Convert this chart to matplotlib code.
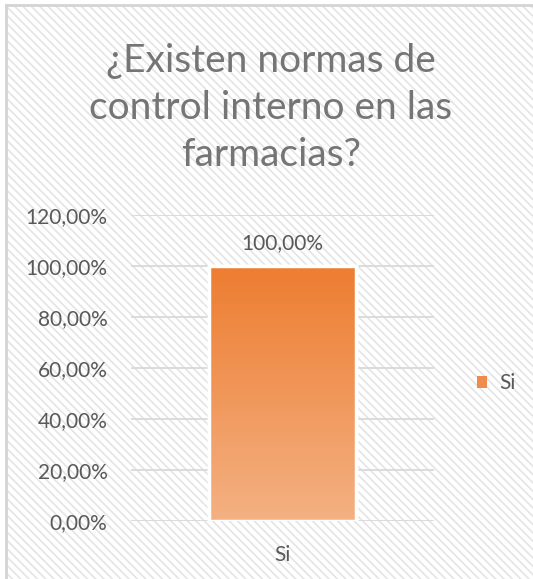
import numpy as np
import matplotlib
matplotlib.use("Agg")
import matplotlib.pyplot as plt
from matplotlib.patches import Rectangle, Patch
from matplotlib.lines import Line2D
from matplotlib.colors import LinearSegmentedColormap
from matplotlib.ticker import FuncFormatter

# Data
categories = ["Si"]
values = [1.0]
series_name = "Si"
title = "¿Existen normas de\ncontrol interno en las\nfarmacias?"
yticks = [0.0, 0.2, 0.4, 0.6, 0.8, 1.0, 1.2]

FONT = "Lato"
TXT = "#595959"
W, H = 533, 579
fig = plt.figure(figsize=(W / 100, H / 100), dpi=100)
plt.rcParams["hatch.color"] = "#e4e4e4"
plt.rcParams["hatch.linewidth"] = 1.2

# hatched background + border (left and top only)
bg = Rectangle((6 / W, 0), 1 - 6 / W, 1 - 5 / H, transform=fig.transFigure,
               facecolor="white", edgecolor="#e4e4e4", hatch="\\\\\\\\", lw=0,
               zorder=-10)
fig.patches.append(bg)
fig.lines.append(Line2D([6 / W, 6 / W], [0, 1 - 5 / H], transform=fig.transFigure,
                        color="#d4d4d4", lw=2.0, zorder=-9))
fig.lines.append(Line2D([6 / W, 1], [1 - 5 / H, 1 - 5 / H], transform=fig.transFigure,
                        color="#d4d4d4", lw=2.0, zorder=-9))

ax = fig.add_axes([131 / W, (H - 521) / H, 303 / W, 306 / H])
ax.patch.set_alpha(0)
for s in ax.spines.values():
    s.set_visible(False)

x = np.arange(len(categories))
bars = ax.bar(x, values, width=0.485, color="#ED7D31", edgecolor="white",
              linewidth=2.5, zorder=3, label=series_name)
ax.set_xlim(-0.5, 0.5)
ax.set_ylim(0, 1.2)
ax.set_yticks(yticks)
ax.yaxis.set_major_formatter(FuncFormatter(lambda v, p: f"{v*100:.2f}%".replace(".", ",")))
ax.grid(axis="y", color="#d9d9d9", lw=1.3, zorder=0)
ax.set_axisbelow(True)
ax.tick_params(axis="both", length=0, labelsize=15, labelcolor=TXT)
ax.tick_params(axis="y", pad=17)
ax.tick_params(axis="x", pad=17)
ax.set_xticks(x)
ax.set_xticklabels(categories)
for lab in ax.get_xticklabels() + ax.get_yticklabels():
    lab.set_fontfamily(FONT)

# gradient fill
cmap = LinearSegmentedColormap.from_list("g", ["#F4B183", "#ED7D31"])
grad = np.linspace(0, 1, 256).reshape(-1, 1)
for b, v in zip(bars, values):
    x0 = b.get_x()
    im = ax.imshow(grad, cmap=cmap, aspect="auto", origin="lower",
                   extent=(x0, x0 + b.get_width(), 0, v), zorder=3.5)
    im.set_clip_path(b)
    edge = Rectangle((x0, 0), b.get_width(), v, facecolor="none",
                     edgecolor="white", lw=2.5, zorder=4)
    ax.add_patch(edge)
    ax.text(b.get_x() + b.get_width() / 2, v + 0.09,
            f"{v*100:.2f}%".replace(".", ","), ha="center", va="center",
            fontsize=15, color=TXT, family=FONT)
ax.set_xlim(-0.5, 0.5)
ax.set_ylim(0, 1.2)

leg = fig.legend(handles=[Patch(facecolor="#EF8B4C", edgecolor="none", label=series_name)],
                 loc="center left", bbox_to_anchor=(458 / W, (H - 383) / H),
                 frameon=False, handlelength=0.5, handleheight=0.5,
                 handletextpad=0.6, prop={"family": FONT, "size": 15})
for t in leg.get_texts():
    t.set_color(TXT)

fig.text(271 / W, (H - 108) / H, title, ha="center", va="center",
         fontsize=28, color="#757575", family=FONT, linespacing=1.37)

fig.savefig("out.png", dpi=100)
